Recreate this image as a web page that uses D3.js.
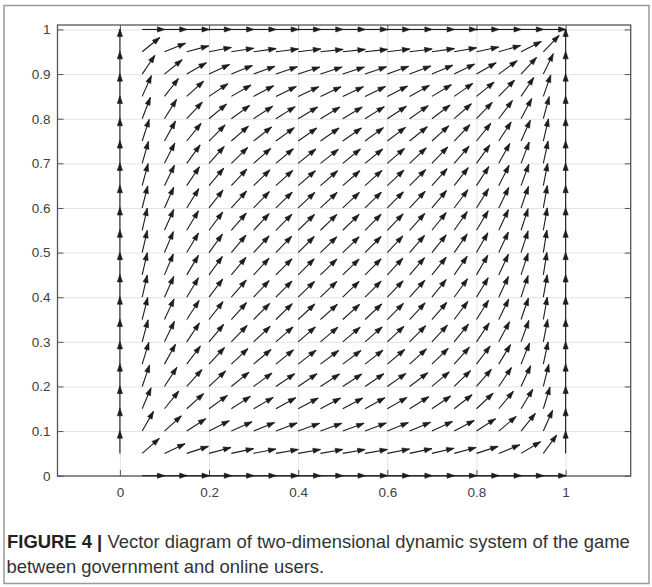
<!DOCTYPE html>
<html>
<head>
<meta charset="utf-8">
<script src="https://cdn.jsdelivr.net/npm/d3@7"></script>
<style>
  body { margin: 0; background: #fff; }
  #svg-container { width: 652px; height: 587px; }
  .axis text { font-family: "Liberation Sans", Arial, sans-serif; font-size: 13.5px; fill: #404040; }
  .axis line { stroke: #555; }
  .grid line { stroke: #e3e3e3; }
</style>
</head>
<body>
<div id="svg-container"></div>
<script>
////////////////////////////////////////////////////////////////////
////////////////////////////  Data  ////////////////////////////////
const gridX = [0, 0.05, 0.1, 0.15, 0.2, 0.25, 0.3, 0.35, 0.4, 0.45, 0.5,
  0.55, 0.6, 0.65, 0.7, 0.75, 0.8, 0.85, 0.9, 0.95, 1];
const gridY = [0, 0.05, 0.1, 0.15, 0.2, 0.25, 0.3, 0.35, 0.4, 0.45, 0.5,
  0.55, 0.6, 0.65, 0.7, 0.75, 0.8, 0.85, 0.9, 0.95, 1];
const xTicks = [0, 0.2, 0.4, 0.6, 0.8, 1];
const yTicks = [0, 0.1, 0.2, 0.3, 0.4, 0.5, 0.6, 0.7, 0.8, 0.9, 1];

// arrow direction in degrees, one row per gridY value (bottom row first), null = no arrow
const angleRows = [
  [null, 0, 0, 0, 0, 0, 0, 0, 0, 0, 0, 0, 0, 0, 0, 0, 0, 0, 0, 0, null],
  [90, 41, 25, 18, 15, 12, 11, 10, 10, 10, 10, 10, 11, 12, 13, 15, 18, 22, 31, 54, 90],
  [90, 60, 42, 33, 27, 24, 22, 21, 20, 20, 20, 21, 22, 23, 25, 28, 33, 40, 51, 66, 90],
  [90, 67, 51, 42, 36, 33, 30, 29, 28, 28, 28, 29, 30, 32, 34, 38, 43, 50, 59, 73, 90],
  [90, 71, 57, 48, 43, 39, 36, 34, 34, 33, 33, 34, 35, 37, 40, 44, 49, 56, 65, 76, 90],
  [90, 73, 61, 53, 47, 43, 40, 39, 38, 37, 37, 38, 40, 42, 44, 48, 53, 59, 68, 78, 90],
  [90, 75, 64, 56, 50, 46, 43, 41, 41, 40, 40, 41, 43, 45, 47, 51, 56, 62, 70, 79, 90],
  [90, 76, 65, 57, 52, 48, 45, 44, 43, 42, 42, 43, 45, 47, 49, 53, 58, 64, 71, 80, 90],
  [90, 77, 66, 59, 53, 49, 47, 45, 44, 44, 44, 45, 46, 48, 51, 54, 59, 65, 72, 80, 90],
  [90, 77, 67, 59, 54, 50, 47, 45, 45, 44, 44, 45, 47, 49, 51, 55, 60, 65, 72, 81, 90],
  [90, 77, 67, 59, 54, 50, 47, 46, 45, 44, 44, 45, 47, 49, 51, 55, 60, 65, 72, 81, 90],
  [90, 77, 66, 59, 53, 49, 47, 45, 44, 44, 44, 45, 46, 48, 51, 55, 59, 65, 72, 80, 90],
  [90, 76, 66, 58, 52, 48, 46, 44, 43, 43, 43, 44, 45, 47, 50, 53, 58, 64, 71, 80, 90],
  [90, 75, 64, 56, 50, 47, 44, 42, 41, 41, 41, 42, 43, 45, 48, 52, 57, 63, 70, 79, 90],
  [90, 74, 63, 54, 48, 44, 41, 40, 39, 38, 39, 39, 41, 43, 46, 49, 54, 61, 69, 78, 90],
  [90, 72, 61, 51, 45, 41, 38, 36, 35, 35, 35, 36, 37, 39, 42, 46, 51, 57, 66, 77, 90],
  [90, 69, 58, 47, 40, 36, 33, 32, 31, 31, 31, 32, 33, 35, 37, 41, 46, 53, 62, 75, 90],
  [90, 66, 52, 42, 34, 30, 28, 26, 25, 25, 25, 26, 27, 29, 31, 35, 39, 46, 56, 71, 90],
  [90, 56, 39, 30, 25, 22, 20, 19, 18, 18, 18, 19, 20, 21, 23, 26, 30, 36, 47, 64, 90],
  [90, 39, 22, 15, 11, 9, 8, 7, 7, 6, 6, 6, 7, 7, 8, 10, 12, 16, 27, 46, 90],
  [null, 0, 0, 0, 0, 0, 0, 0, 0, 0, 0, 0, 0, 0, 0, 0, 0, 0, 0, 0, null],
];

const captionBold = "FIGURE 4 |";
const captionLine1 = " Vector diagram of two-dimensional dynamic system of the game";
const captionLine2 = "between government and online users.";

////////////////////////////////////////////////////////////////////
////////////////////////////  Init  ////////////////////////////////
const width = 652;
const height = 587;
const plot = { left: 57.5, right: 630.7, top: 25, bottom: 476 };
const arrowLen = 0.051; // data units (normalised vectors)

const svg = d3
  .select("#svg-container")
  .append("svg")
  .attr("width", width)
  .attr("height", height);

// figure frame
svg
  .append("rect")
  .attr("x", 4)
  .attr("y", 5.5)
  .attr("width", 645)
  .attr("height", 578)
  .attr("fill", "none")
  .attr("stroke", "#9a9a9a")
  .attr("stroke-width", 1.5);

const xScale = d3.scaleLinear().domain([-0.14, 1.146]).range([plot.left, plot.right]);
const yScale = d3.scaleLinear().domain([0, 1.01]).range([plot.bottom - 0.3, plot.top]);

////////////////////////////////////////////////////////////////////
////////////////////////////  Grid  ////////////////////////////////
svg
  .append("g")
  .attr("class", "grid")
  .attr("transform", `translate(0,${plot.bottom})`)
  .call(d3.axisBottom(xScale).tickValues(xTicks).tickSize(-(plot.bottom - plot.top)).tickFormat(""))
  .call((g) => g.select(".domain").remove());

svg
  .append("g")
  .attr("class", "grid")
  .attr("transform", `translate(${plot.left},0)`)
  .call(d3.axisLeft(yScale).tickValues(yTicks).tickSize(-(plot.right - plot.left)).tickFormat(""))
  .call((g) => g.select(".domain").remove());

////////////////////////////////////////////////////////////////////
////////////////////////////  Axes  ////////////////////////////////
const fmt = d3.format("~g");

svg
  .append("g")
  .attr("class", "axis")
  .attr("transform", `translate(0,${plot.bottom})`)
  .call(d3.axisBottom(xScale).tickValues(xTicks).tickSize(-6).tickPadding(11).tickFormat(fmt))
  .call((g) => g.select(".domain").remove());

svg
  .append("g")
  .attr("class", "axis")
  .attr("transform", `translate(0,${plot.top})`)
  .call(d3.axisTop(xScale).tickValues(xTicks).tickSize(-6).tickFormat(""))
  .call((g) => g.select(".domain").remove());

svg
  .append("g")
  .attr("class", "axis")
  .attr("transform", `translate(${plot.left},0)`)
  .call(d3.axisLeft(yScale).tickValues(yTicks).tickSize(-6).tickPadding(7).tickFormat(fmt))
  .call((g) => g.select(".domain").remove());

svg
  .append("g")
  .attr("class", "axis")
  .attr("transform", `translate(${plot.right},0)`)
  .call(d3.axisRight(yScale).tickValues(yTicks).tickSize(-6).tickFormat(""))
  .call((g) => g.select(".domain").remove());

svg
  .append("rect")
  .attr("x", plot.left)
  .attr("y", plot.top)
  .attr("width", plot.right - plot.left)
  .attr("height", plot.bottom - plot.top)
  .attr("fill", "none")
  .attr("stroke", "#555")
  .attr("stroke-width", 1.3);

////////////////////////////////////////////////////////////////////
////////////////////////////  Arrows  //////////////////////////////
const arrows = [];
angleRows.forEach((row, j) => {
  row.forEach((deg, i) => {
    if (deg === null) return;
    const a = (deg * Math.PI) / 180;
    arrows.push({
      x: gridX[i],
      y: gridY[j],
      u: arrowLen * Math.cos(a),
      v: arrowLen * Math.sin(a),
    });
  });
});

const headLen = 7.5;
const headHalf = 2.6;

const arrowG = svg.append("g").attr("class", "arrows");

arrowG
  .selectAll("line")
  .data(arrows)
  .enter()
  .append("line")
  .attr("x1", (d) => xScale(d.x))
  .attr("y1", (d) => yScale(d.y))
  .attr("x2", (d) => xScale(d.x + d.u))
  .attr("y2", (d) => yScale(d.y + d.v))
  .attr("stroke", "#1c1c1c")
  .attr("stroke-width", 1.1);

arrowG
  .selectAll("path")
  .data(arrows)
  .enter()
  .append("path")
  .attr("d", (d) => {
    const x0 = xScale(d.x), y0 = yScale(d.y);
    const x1 = xScale(d.x + d.u), y1 = yScale(d.y + d.v);
    const len = Math.hypot(x1 - x0, y1 - y0);
    const ux = (x1 - x0) / len, uy = (y1 - y0) / len;
    const bx = x1 - ux * headLen, by = y1 - uy * headLen;
    return `M${x1},${y1}L${bx - uy * headHalf},${by + ux * headHalf}L${bx + uy * headHalf},${by - ux * headHalf}Z`;
  })
  .attr("fill", "#1c1c1c")
  .attr("stroke", "#1c1c1c")
  .attr("stroke-width", 0.6)
  .attr("stroke-linejoin", "round");

////////////////////////////////////////////////////////////////////
////////////////////////////  Caption  /////////////////////////////
const capFont = '"Liberation Sans Narrow", "Arial Narrow", "Liberation Sans", Arial, sans-serif';
const capSize = 17.5;

const cap1 = svg
  .append("text")
  .attr("font-family", capFont)
  .attr("font-size", capSize)
  .attr("fill", "#333");
cap1.append("tspan").attr("font-weight", "bold").attr("fill", "#222").text(captionBold);
cap1.append("tspan").text(captionLine1);

const cap2 = svg
  .append("text")
  .attr("font-family", capFont)
  .attr("font-size", capSize)
  .attr("fill", "#333")
  .text(captionLine2);

// squeeze the caption horizontally to the condensed width seen in the figure
const sx = 623 / cap1.node().getComputedTextLength();
cap1.attr("transform", `translate(7,547.5) scale(${sx},1)`);
cap2.attr("transform", `translate(6.5,573) scale(${sx},1)`);
</script>
</body>
</html>
